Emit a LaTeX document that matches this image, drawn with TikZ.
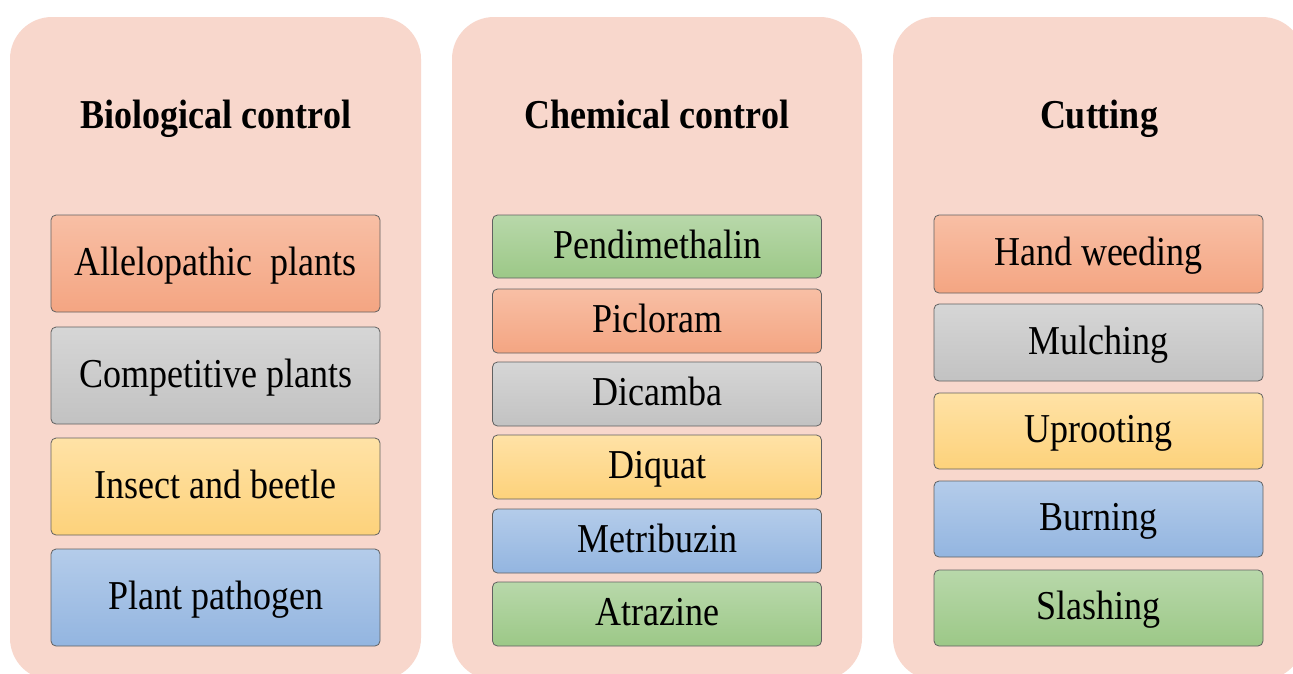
\documentclass[tikz,border=0pt]{standalone}
\usepackage{fontspec}
\setmainfont{Liberation Serif}
\usepackage{graphicx}
\definecolor{panelc}{HTML}{F8D7CC}
\definecolor{orT}{HTML}{F8BFA5}\definecolor{orB}{HTML}{F4A582}
\definecolor{grT}{HTML}{D6D6D6}\definecolor{grB}{HTML}{C2C2C2}
\definecolor{yeT}{HTML}{FFE2A6}\definecolor{yeB}{HTML}{FDD27B}
\definecolor{blT}{HTML}{B4CCEA}\definecolor{blB}{HTML}{93B5E0}
\definecolor{gnT}{HTML}{B8D8AA}\definecolor{gnB}{HTML}{9CC887}
\newcommand{\st}[1]{\scalebox{1}[1.14]{#1}}
\tikzset{
  panel/.style={fill=panelc, draw=none, rounded corners=42pt},
  box/.style={rectangle, rounded corners=5pt, draw=black!62, line width=0.8pt,
    minimum width=329pt, inner sep=0pt, text height=31pt, text depth=8pt,
    font=\fontsize{36}{40}\selectfont},
  ttl/.style={anchor=base, inner sep=0pt, font=\bfseries\fontsize{36}{40}\selectfont},
  orange/.style={top color=orT, bottom color=orB},
  gray/.style={top color=grT, bottom color=grB},
  yellow/.style={top color=yeT, bottom color=yeB},
  blue/.style={top color=blT, bottom color=blB},
  green/.style={top color=gnT, bottom color=gnB},
}
\begin{document}
\begin{tikzpicture}[x=1pt,y=-1pt]
\useasboundingbox (0,0) rectangle (1293,673);
\clip (0,0) rectangle (1293,673);
\fill[white] (0,0) rectangle (1293,673);
% panels
\path[panel] (10,17) rectangle (421,680);
\path[panel] (452,17) rectangle (862,680);
\path[panel] (893,17) rectangle (1304,680);
% titles
\node[ttl] (t1) at (216,128) {\st{Biological control}};
\node[ttl] (t2) at (657,128) {\st{Chemical control}};
\node[ttl] (t3) at (1099,128) {\st{Cutting}};
% biological
\node[box, orange, minimum height=97pt] (b1) at (215.5,263.5) {\st{Allelopathic\ \ plants}};
\node[box, gray,   minimum height=97pt] (b2) at (215.5,375.5) {\st{Competitive plants}};
\node[box, yellow, minimum height=97pt] (b3) at (215.5,486.5) {\st{Insect and beetle}};
\node[box, blue,   minimum height=97pt] (b4) at (215.5,597.5) {\st{Plant pathogen}};
% chemical
\node[box, green,  minimum height=63pt] (c1) at (657,246.5) {\st{Pendimethalin}};
\node[box, orange, minimum height=64pt] (c2) at (657,321) {\st{Picloram}};
\node[box, gray,   minimum height=64pt] (c3) at (657,394) {\st{Dicamba}};
\node[box, yellow, minimum height=64pt] (c4) at (657,467) {\st{Diquat}};
\node[box, blue,   minimum height=64pt] (c5) at (657,541) {\st{Metribuzin}};
\node[box, green,  minimum height=64pt] (c6) at (657,614) {\st{Atrazine}};
% cutting
\node[box, orange, minimum height=78pt] (k1) at (1098.5,254) {\st{Hand weeding}};
\node[box, gray,   minimum height=77pt] (k2) at (1098.5,342.5) {\st{Mulching}};
\node[box, yellow, minimum height=76pt] (k3) at (1098.5,431) {\st{Uprooting}};
\node[box, blue,   minimum height=76pt] (k4) at (1098.5,519) {\st{Burning}};
\node[box, green,  minimum height=76pt] (k5) at (1098.5,608) {\st{Slashing}};
\end{tikzpicture}
\end{document}
